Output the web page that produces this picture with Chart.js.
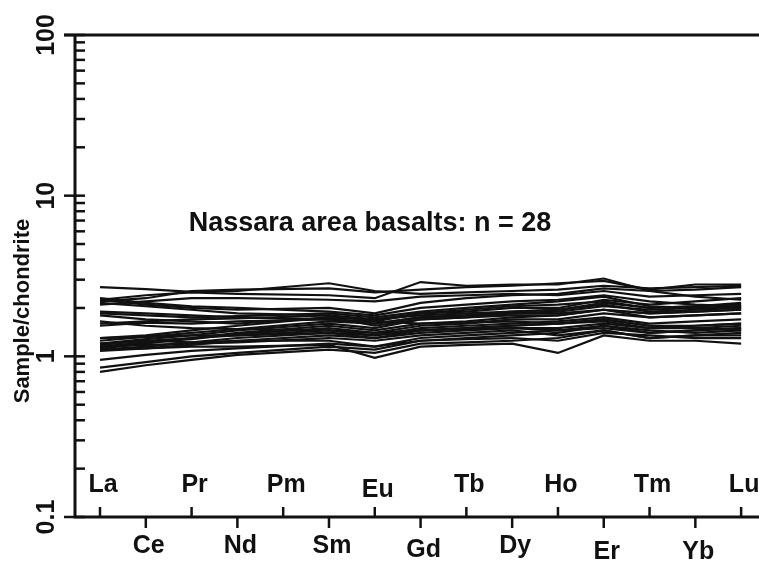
<!DOCTYPE html>
<html>
<head>
<meta charset="utf-8">
<script src="https://cdn.jsdelivr.net/npm/chart.js@4"></script>
<style>
html,body{margin:0;padding:0;background:#fff;}
#wrap{width:759px;height:562px;position:relative;}
</style>
</head>
<body>
<div id="wrap"><canvas id="c"></canvas></div>
<script>
// REE elements, chondrite-normalised; Pm not analysed (null)
const elements=['La','Ce','Pr','Nd','Pm','Sm','Eu','Gd','Tb','Dy','Ho','Er','Tm','Yb','Lu'];
const yTicks=[0.1,1,10,100];
const yTickLabels=['0.1','1','10','100'];
const titleText='Nassara area basalts: n = 28';
const yTitle='Sample/chondrite';

const samples=[
  [2.70,2.62,2.52,2.55,null,2.85,2.55,2.45,2.50,2.55,2.60,2.75,2.65,2.70,2.75],
  [2.25,2.40,2.50,2.45,null,2.40,2.30,2.90,2.75,2.80,2.80,3.05,2.55,2.35,2.25],
  [2.20,2.30,2.55,2.60,null,2.65,2.50,2.60,2.70,2.75,2.85,2.95,2.60,2.80,2.80],
  [2.30,2.15,2.05,2.00,null,1.90,1.80,2.00,2.10,2.20,2.25,2.40,2.20,2.10,2.05],
  [2.15,2.05,1.95,1.85,null,1.80,1.65,1.85,1.95,2.05,2.10,2.20,2.00,2.05,2.15],
  [1.85,1.80,1.75,1.78,null,1.85,1.75,1.90,2.00,2.10,2.20,2.35,2.05,2.00,2.00],
  [1.80,1.70,1.65,1.60,null,1.75,1.55,1.70,1.75,1.80,1.80,1.95,1.85,1.90,1.95],
  [1.60,1.65,1.70,1.72,null,1.80,1.70,1.80,1.85,1.90,1.95,2.10,1.90,1.95,2.00],
  [1.55,1.62,1.60,1.65,null,1.70,1.60,1.75,1.80,1.85,1.85,1.95,1.75,1.80,1.85],
  [1.30,1.35,1.45,1.55,null,1.75,1.70,1.85,1.90,2.00,2.00,2.25,2.10,2.20,2.30],
  [1.25,1.32,1.40,1.48,null,1.65,1.60,1.75,1.80,1.90,1.95,2.15,2.00,2.05,2.10],
  [1.20,1.28,1.35,1.45,null,1.60,1.50,1.70,1.75,1.85,1.90,2.05,1.95,2.00,2.05],
  [1.18,1.25,1.30,1.40,null,1.55,1.45,1.60,1.65,1.75,1.80,1.95,1.85,1.90,1.95],
  [1.15,1.22,1.28,1.38,null,1.50,1.40,1.55,1.60,1.70,1.70,1.85,1.75,1.80,1.85],
  [1.12,1.20,1.30,1.35,null,1.45,1.35,1.50,1.55,1.60,1.65,1.75,1.60,1.65,1.70],
  [1.10,1.15,1.22,1.30,null,1.40,1.30,1.45,1.50,1.55,1.60,1.70,1.55,1.55,1.60],
  [1.08,1.12,1.18,1.25,null,1.35,1.30,1.40,1.45,1.50,1.50,1.60,1.50,1.50,1.55],
  [0.95,1.02,1.08,1.12,null,1.20,1.15,1.30,1.35,1.40,1.45,1.50,1.40,1.45,1.50],
  [0.80,0.88,0.95,1.02,null,1.10,1.05,1.20,1.22,1.25,1.30,1.45,1.30,1.35,1.40],
  [0.85,0.92,1.00,1.05,null,1.15,1.10,1.25,1.30,1.35,1.40,1.55,1.45,1.40,1.45],
  [1.20,1.25,1.22,1.25,null,1.25,1.15,1.25,1.28,1.30,1.25,1.40,1.35,1.30,1.30],
  [1.10,1.12,1.15,1.15,null,1.18,0.98,1.15,1.18,1.20,1.05,1.35,1.25,1.25,1.20],
  [1.15,1.18,1.20,1.22,null,1.30,1.25,1.35,1.40,1.45,1.35,1.45,1.30,1.35,1.35],
  [2.10,2.20,2.30,2.30,null,2.25,2.20,2.35,2.40,2.45,2.40,2.55,2.35,2.40,2.45],
  [2.25,2.10,2.00,1.95,null,2.00,1.85,2.15,2.30,2.40,2.45,2.65,2.55,2.60,2.70],
  [1.90,1.85,1.80,1.75,null,1.70,1.65,1.60,1.62,1.65,1.60,1.70,1.55,1.50,1.45],
  [1.65,1.55,1.50,1.48,null,1.45,1.40,1.45,1.48,1.50,1.45,1.55,1.40,1.45,1.50],
  [1.30,1.32,1.35,1.35,null,1.40,1.35,1.45,1.50,1.55,1.60,1.65,1.50,1.55,1.60]
];

const FONT='"Liberation Sans", Arial, Helvetica, sans-serif';
const INK='#111';
// a few element labels sit slightly lower in the original
const labelDrop={Eu:5,Gd:4,Er:6,Yb:6};

const axesPlugin={
  id:'reeAxes',
  afterDraw(chart){
    const ctx=chart.ctx, xs=chart.scales.x, ys=chart.scales.y, a=chart.chartArea;
    ctx.save();
    ctx.strokeStyle=INK;ctx.fillStyle=INK;ctx.lineCap='butt';
    // frame: left, top, bottom
    ctx.lineWidth=3;
    ctx.beginPath();
    ctx.moveTo(a.left,a.top);ctx.lineTo(a.left,a.bottom);
    ctx.moveTo(a.left-11,a.top);ctx.lineTo(a.right,a.top);
    ctx.moveTo(a.left-1.5,a.bottom);ctx.lineTo(a.right,a.bottom);
    ctx.stroke();
    // y ticks
    ctx.lineWidth=2.5;
    for(let d=0;d<yTicks.length;d++){
      const v=yTicks[d], py=ys.getPixelForValue(v);
      ctx.beginPath();ctx.moveTo(a.left-11,py);ctx.lineTo(a.left+10,py);ctx.stroke();
      if(d<yTicks.length-1){
        for(let k=2;k<=9;k++){
          const my=ys.getPixelForValue(v*k);
          ctx.beginPath();ctx.moveTo(a.left,my);ctx.lineTo(a.left+10,my);ctx.stroke();
        }
      }
    }
    // y tick labels (rotated)
    ctx.font='bold 25px '+FONT;ctx.textAlign='center';ctx.textBaseline='middle';
    yTicks.forEach((v,i)=>{
      const py=ys.getPixelForValue(v);
      ctx.save();ctx.translate(a.left-28,py);ctx.rotate(-Math.PI/2);ctx.fillText(yTickLabels[i],0,0);ctx.restore();
    });
    // y title
    ctx.font='bold 22px '+FONT;
    ctx.save();ctx.translate(23,311);ctx.rotate(-Math.PI/2);ctx.fillText(yTitle,0,0);ctx.restore();
    // x ticks and labels, alternating up/down
    ctx.lineWidth=2.5;
    ctx.font='bold 25px '+FONT;
    elements.forEach((el,i)=>{
      const px=xs.getPixelForValue(i);
      ctx.beginPath();
      if(i%2===0){ctx.moveTo(px,a.bottom);ctx.lineTo(px,a.bottom-10);}
      else{ctx.moveTo(px,a.bottom);ctx.lineTo(px,a.bottom+11);}
      ctx.stroke();
      const dy=labelDrop[el]||0;
      ctx.fillText(el,px+3,(i%2===0?a.bottom-32:a.bottom+29)+dy);
    });
    // annotation
    ctx.font='bold 27px '+FONT;
    ctx.fillText(titleText,370,224);
    ctx.restore();
  }
};

new Chart(document.getElementById('c'),{
  type:'line',
  data:{
    datasets:samples.map(s=>({
      data:s.map((v,i)=>({x:i,y:v})),
      borderColor:INK,borderWidth:2.2,pointRadius:0,tension:0,spanGaps:true,fill:false
    }))
  },
  options:{
    responsive:true,maintainAspectRatio:false,animation:false,
    layout:{padding:{left:75,top:35,right:0,bottom:45}},
    plugins:{legend:{display:false},tooltip:{enabled:false}},
    scales:{
      x:{type:'linear',display:false,min:-0.546,max:14.39},
      y:{type:'logarithmic',display:false,min:0.1,max:100}
    }
  },
  plugins:[axesPlugin]
});
</script>
</body>
</html>
